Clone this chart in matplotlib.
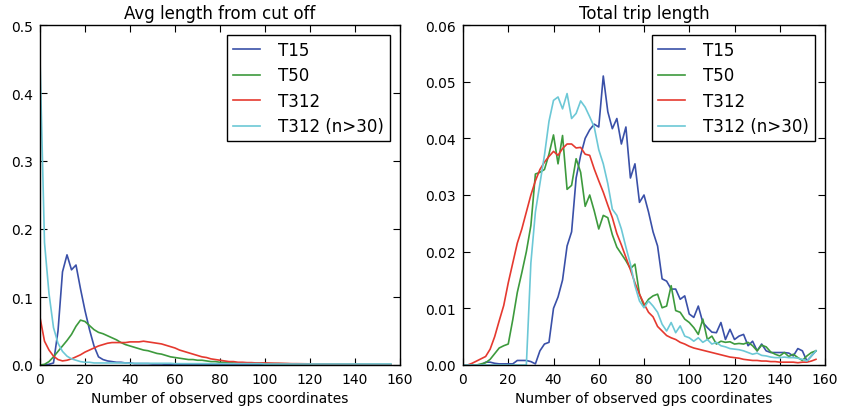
"""GPS coordinate count distributions"""
import matplotlib
matplotlib.use('Agg')
import matplotlib.pyplot as plt
import numpy as np

X_VALUES = np.arange(0, 158, 2)
LABELS = ['T15', 'T50', 'T312', 'T312 (n>30)']
COLORS = ['#3a50a8', '#3d9a3d', '#e5392f', '#6cc8d6']

# Avg length from cut off
CUT_T15 = [0, 0, 0.001, 0.003, 0.05, 0.137, 0.162, 0.14, 0.147, 0.112,
           0.08, 0.052, 0.028, 0.012, 0.008, 0.006, 0.005, 0.004, 0.004, 0.003,
           0.003, 0.002, 0.002, 0.002, 0.002, 0.0015, 0.0015, 0.0015, 0.001, 0.001,
           0.001, 0.001, 0.001, 0.001, 0.0008, 0.0008, 0.0008, 0.0006, 0.0006, 0.0005,
           0.0005, 0.0005, 0.0004, 0.0004, 0.0004, 0.0003, 0.0003, 0.0003, 0.0003, 0.0002,
           0.0002, 0.0002, 0.0002, 0.0002, 0.0002, 0.0002, 0.0002, 0.0002, 0.0002, 0.0002,
           0.0001, 0.0001, 0.0001, 0.0001, 0.0001, 0.0001, 0.0001, 0.0001, 0.0001, 0.0001,
           0.0001, 0.0001, 0.0001, 0.0001, 0.0001, 0.0001, 0.0001, 0.0001, 0.0001]
CUT_T50 = [0, 0.001, 0.005, 0.012, 0.02, 0.028, 0.036, 0.045, 0.057, 0.066,
           0.064, 0.058, 0.052, 0.048, 0.046, 0.043, 0.040, 0.037, 0.033, 0.030,
           0.028, 0.026, 0.024, 0.022, 0.021, 0.019, 0.017, 0.016, 0.014, 0.012,
           0.011, 0.010, 0.009, 0.008, 0.008, 0.007, 0.007, 0.006, 0.005, 0.005,
           0.004, 0.004, 0.004, 0.003, 0.003, 0.003, 0.003, 0.0025, 0.0025, 0.0025,
           0.002, 0.002, 0.002, 0.002, 0.0018, 0.0018, 0.0016, 0.0016, 0.0015, 0.0015,
           0.0014, 0.0013, 0.0012, 0.0012, 0.0011, 0.001, 0.001, 0.001, 0.0009, 0.0009,
           0.0008, 0.0008, 0.0008, 0.0007, 0.0007, 0.0007, 0.0006, 0.0006, 0.0006]
CUT_T312 = [0.07, 0.035, 0.022, 0.013, 0.008, 0.006, 0.007, 0.009, 0.012, 0.015,
            0.019, 0.022, 0.025, 0.028, 0.030, 0.032, 0.033, 0.033, 0.033, 0.033,
            0.034, 0.034, 0.034, 0.035, 0.034, 0.033, 0.032, 0.031, 0.029, 0.027,
            0.025, 0.022, 0.020, 0.018, 0.016, 0.014, 0.012, 0.011, 0.009, 0.008,
            0.007, 0.006, 0.005, 0.005, 0.004, 0.004, 0.0035, 0.0035, 0.003, 0.003,
            0.003, 0.0028, 0.0026, 0.0025, 0.0024, 0.0022, 0.002, 0.002, 0.0019, 0.0018,
            0.0017, 0.0016, 0.0015, 0.0014, 0.0013, 0.0012, 0.0012, 0.0011, 0.001, 0.001,
            0.0009, 0.0009, 0.0008, 0.0008, 0.0007, 0.0007, 0.0006, 0.0006, 0.0005]
CUT_T312_N30 = [0.45, 0.18, 0.105, 0.055, 0.032, 0.02, 0.013, 0.009, 0.007, 0.005,
                0.004, 0.004, 0.003, 0.003, 0.003, 0.003, 0.003, 0.003, 0.003, 0.003,
                0.0025, 0.0025, 0.0025, 0.0025, 0.0025, 0.0025, 0.0025, 0.0025, 0.0025, 0.0025,
                0.002, 0.002, 0.002, 0.002, 0.002, 0.002, 0.002, 0.002, 0.002, 0.002,
                0.002, 0.002, 0.002, 0.002, 0.002, 0.002, 0.002, 0.002, 0.002, 0.002,
                0.0015, 0.0015, 0.0015, 0.0015, 0.0015, 0.0015, 0.0015, 0.0015, 0.0015, 0.0015,
                0.0015, 0.0015, 0.0015, 0.0015, 0.0015, 0.0015, 0.0015, 0.0015, 0.0015, 0.0015,
                0.0015, 0.0015, 0.0015, 0.0015, 0.0015, 0.0015, 0.0015, 0.0015, 0.0015]

# Total trip length
TRIP_T15 = [0, 0, 0, 0, 0, 0.0005, 0.0005, 0.0003, 0.0002, 0.0002,
            0.0002, 0.0002, 0.0008, 0.0008, 0.0008, 0.0006, 0.0002, 0.0025, 0.0037, 0.004,
            0.010, 0.012, 0.015, 0.021, 0.0235, 0.033, 0.037, 0.040, 0.0415, 0.0425,
            0.042, 0.051, 0.0447, 0.0417, 0.0435, 0.039, 0.042, 0.033, 0.0355, 0.0287,
            0.030, 0.027, 0.0235, 0.021, 0.0152, 0.0148, 0.0134, 0.0134, 0.0116, 0.0122,
            0.009, 0.0084, 0.0104, 0.0075, 0.0066, 0.0058, 0.0057, 0.0075, 0.0045, 0.0063,
            0.0045, 0.0051, 0.0054, 0.0034, 0.0042, 0.0025, 0.0037, 0.0025, 0.0022, 0.0022,
            0.0022, 0.0022, 0.0021, 0.0016, 0.0029, 0.0025, 0.0007, 0.0016, 0.0025]
TRIP_T50 = [0, 0, 0, 0, 0.0002, 0.0004, 0.001, 0.002, 0.003, 0.0034,
            0.0037, 0.008, 0.0128, 0.0163, 0.02, 0.0246, 0.0337, 0.034, 0.0345, 0.0372,
            0.0406, 0.0355, 0.0405, 0.031, 0.0317, 0.0364, 0.034, 0.028, 0.030, 0.0272,
            0.024, 0.0264, 0.026, 0.023, 0.0208, 0.0196, 0.0184, 0.017, 0.0178, 0.0125,
            0.0104, 0.0116, 0.0122, 0.0125, 0.0101, 0.0104, 0.014, 0.0096, 0.0093, 0.0081,
            0.0075, 0.0066, 0.0054, 0.0081, 0.0045, 0.0051, 0.0037, 0.0042, 0.004, 0.0041,
            0.0037, 0.0038, 0.0037, 0.004, 0.0034, 0.0025, 0.0035, 0.0032, 0.0023, 0.0019,
            0.0016, 0.0022, 0.0015, 0.0019, 0.0013, 0.0008, 0.0016, 0.0022, 0.0025]
TRIP_T312 = [0, 0, 0.0003, 0.0007, 0.0011, 0.0015, 0.0028, 0.005, 0.0078, 0.0105,
             0.0145, 0.018, 0.0215, 0.024, 0.027, 0.030, 0.0325, 0.0345, 0.0358, 0.0368,
             0.0377, 0.037, 0.0382, 0.039, 0.039, 0.0383, 0.0384, 0.0372, 0.037, 0.0346,
             0.0325, 0.0305, 0.0282, 0.026, 0.0232, 0.0212, 0.019, 0.0168, 0.0145, 0.0125,
             0.0108, 0.0093, 0.0085, 0.0068, 0.006, 0.0052, 0.0048, 0.0045, 0.004, 0.0037,
             0.0033, 0.003, 0.0028, 0.0026, 0.0024, 0.0022, 0.002, 0.0018, 0.0016, 0.0014,
             0.0013, 0.0012, 0.001, 0.0009, 0.0008, 0.0008, 0.0007, 0.0007, 0.0006, 0.0006,
             0.0005, 0.0005, 0.0005, 0.0005, 0.0004, 0.0005, 0.0005, 0.0007, 0.001]
TRIP_T312_N30 = [0, 0, 0, 0, 0, 0, 0, 0, 0, 0,
                 0, 0, 0, 0, 0, 0.018, 0.027, 0.032, 0.037, 0.043,
                 0.0467, 0.0473, 0.0452, 0.0479, 0.0435, 0.0444, 0.0466, 0.0455, 0.0438, 0.042,
                 0.038, 0.0355, 0.032, 0.0275, 0.0264, 0.024, 0.0208, 0.0178, 0.014, 0.0113,
                 0.0101, 0.0113, 0.0104, 0.0093, 0.0072, 0.006, 0.0075, 0.0057, 0.0069, 0.0051,
                 0.0048, 0.0042, 0.0048, 0.004, 0.0045, 0.0037, 0.004, 0.0034, 0.0032, 0.0029,
                 0.0028, 0.0027, 0.0025, 0.0022, 0.0019, 0.0021, 0.0017, 0.0016, 0.0014, 0.0013,
                 0.0013, 0.0014, 0.0013, 0.0013, 0.0012, 0.001, 0.0007, 0.0016, 0.0025]


def draw_panel(ax, series, title, ymax, ystep):
    """Draw one distribution panel"""
    for values, label, color in zip(series, LABELS, COLORS):
        ax.plot(X_VALUES, values, color=color, linewidth=1.2, label=label)
    ax.set_xlim(0, 160)
    ax.set_ylim(0, ymax)
    ax.set_xticks(np.arange(0, 161, 20))
    ax.set_yticks(np.arange(0, ymax + ystep / 2, ystep))
    ax.tick_params(direction='in', top=True, right=True, length=5,
                   width=0.8, labelsize=10, pad=5)
    for spine in ax.spines.values():
        spine.set_linewidth(1.0)
    ax.set_title(title, fontsize=12, pad=5)
    ax.set_xlabel('Number of observed gps coordinates', fontsize=10, labelpad=4)
    leg = ax.legend(loc='upper right', fontsize=12, fancybox=False,
                    framealpha=1, edgecolor='black', handlelength=1.6,
                    handletextpad=1.1, labelspacing=0.45, borderaxespad=0.6,
                    borderpad=0.35)
    leg.get_frame().set_linewidth(1.0)


def main():
    """Main operational flow"""
    fig = plt.figure(figsize=(8.41, 4.14), dpi=100)
    ax_cut = fig.add_axes([40 / 841, 48 / 414, 360 / 841, 340 / 414])
    ax_trip = fig.add_axes([463 / 841, 48 / 414, 362 / 841, 340 / 414])

    draw_panel(ax_cut, [CUT_T15, CUT_T50, CUT_T312, CUT_T312_N30],
               'Avg length from cut off', 0.5, 0.1)
    ax_cut.yaxis.set_major_formatter(plt.FormatStrFormatter('%.1f'))
    draw_panel(ax_trip, [TRIP_T15, TRIP_T50, TRIP_T312, TRIP_T312_N30],
               'Total trip length', 0.06, 0.01)
    ax_trip.yaxis.set_major_formatter(plt.FormatStrFormatter('%.2f'))

    fig.savefig('out.png', dpi=100)


if __name__ == "__main__":
    main()
